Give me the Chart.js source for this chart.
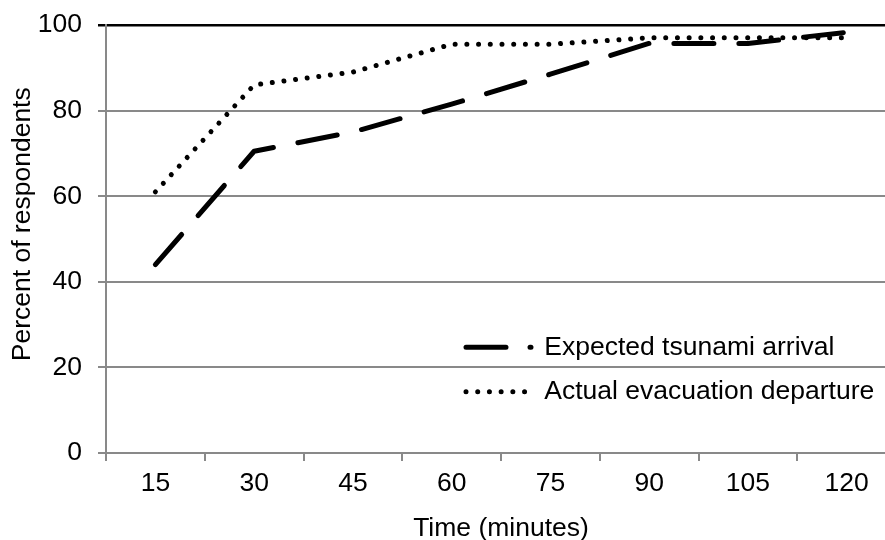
<!DOCTYPE html>
<html>
<head>
<meta charset="utf-8">
<script src="https://cdn.jsdelivr.net/npm/chart.js@4/dist/chart.umd.min.js"></script>
<style>
  html, body { margin: 0; padding: 0; background: #fff; overflow: hidden; }
  #wrap { position: relative; width: 900px; height: 540px; }
</style>
</head>
<body>
<div id="wrap"><canvas id="c"></canvas></div>
<script>
// Minutes after the earthquake
const minutes = ['15', '30', '45', '60', '75', '90', '105', '120'];
// Cumulative percent of respondents
const expectedArrival = [44, 70.5, 75, 81.5, 88.5, 95.7, 95.7, 98.3];
const actualDeparture = [61, 86, 89, 95.5, 95.5, 97, 97, 97];
const yTicks = [0, 20, 40, 60, 80, 100];

const FONT = "'Liberation Sans', Arial, sans-serif";
const FS = 26.5;
const GRID = '#898989';

// Put the legend inside the plot, lower right
const legendInside = {
  id: 'legendInside',
  afterLayout(chart) {
    const lg = chart.legend, ca = chart.chartArea;
    if (!lg) return;
    const w = lg.width, h = lg.height;
    lg.left = ca.left + 342;
    lg.top = ca.top + 291;
    lg.right = lg.left + w;
    lg.bottom = lg.top + h;
  }
};

new Chart(document.getElementById('c'), {
  type: 'line',
  data: {
    labels: minutes,
    datasets: [
      {
        label: 'Expected tsunami arrival',
        data: expectedArrival,
        borderColor: '#000',
        backgroundColor: '#000',
        borderWidth: 5,
        borderDash: [40, 25],
        legendDash: [40, 24],
        borderCapStyle: 'round',
        borderJoinStyle: 'round',
        pointRadius: 0,
        tension: 0
      },
      {
        label: 'Actual evacuation departure',
        data: actualDeparture,
        borderColor: '#000',
        backgroundColor: '#000',
        borderWidth: 5,
        borderDash: [0.01, 11.7],
        legendDash: [0.01, 11.7],
        borderCapStyle: 'round',
        borderJoinStyle: 'round',
        pointRadius: 0,
        tension: 0
      }
    ]
  },
  options: {
    responsive: true,
    maintainAspectRatio: false,
    animation: false,
    layout: { padding: { left: 0, top: 25, right: 4, bottom: 0 } },
    plugins: {
      tooltip: { enabled: false },
      legend: {
        position: 'chartArea',
        align: 'start',
        labels: {
          usePointStyle: true,
          pointStyle: 'line',
          pointStyleWidth: 65,
          padding: 18,
          color: '#000',
          font: { family: FONT, size: FS },
          generateLabels(chart) {
            const items = Chart.defaults.plugins.legend.labels.generateLabels(chart);
            items.forEach(it => {
              const ds = chart.data.datasets[it.datasetIndex];
              it.lineDash = ds.legendDash;
              it.lineCap = ds.borderCapStyle;
              it.lineWidth = ds.borderWidth;
              it.strokeStyle = ds.borderColor;
            });
            return items;
          }
        }
      }
    },
    scales: {
      x: {
        offset: true,
        afterFit(s) { s.height = 87; s.paddingLeft = 0; s.paddingRight = 0; },
        border: { display: true, color: GRID, width: 2 },
        grid: { drawOnChartArea: false, drawTicks: true, tickLength: 8, color: GRID, lineWidth: 2, offset: true },
        ticks: { color: '#000', padding: 7, font: { family: FONT, size: FS }, maxRotation: 0 },
        title: {
          display: true,
          text: 'Time (minutes)',
          color: '#000',
          font: { family: FONT, size: FS },
          padding: { top: 0, bottom: -5 }
        }
      },
      y: {
        min: 0,
        max: 100,
        afterFit(s) { s.width = 106; s.paddingTop = 0; s.paddingBottom = 0; },
        afterBuildTicks(s) { s.ticks = yTicks.map(v => ({ value: v })); },
        border: { display: true, color: GRID, width: 2 },
        grid: {
          tickLength: 8,
          color: ctx => (ctx.tick && ctx.tick.value === 100 ? '#000' : GRID),
          lineWidth: ctx => (ctx.tick && ctx.tick.value === 100 ? 2.5 : 2)
        },
        ticks: { color: '#000', padding: 16, font: { family: FONT, size: FS } },
        title: {
          display: true,
          text: '    Percent of respondents',
          color: '#000',
          font: { family: FONT, size: FS },
          padding: { top: 7, bottom: 0 }
        }
      }
    }
  },
  plugins: [legendInside]
});
</script>
</body>
</html>
